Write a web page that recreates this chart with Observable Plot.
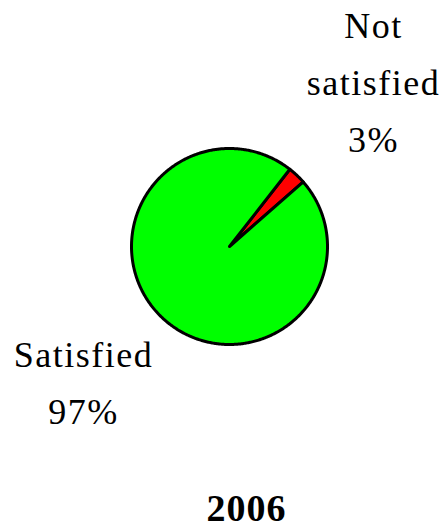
<!DOCTYPE html>
<html><head><meta charset="utf-8">
<script src="https://cdn.jsdelivr.net/npm/d3@7"></script>
<script src="https://cdn.jsdelivr.net/npm/@observablehq/plot@0.6"></script>
<style>body{margin:0;background:#fff;}</style>
</head><body><div id="chart"></div>
<script>
const categories = ["Not satisfied", "Satisfied"];
const values = [3, 97];
const colors = ["#ff0000", "#00ff00"];
const labelLines = [["Not", "satisfied", "3%"], ["Satisfied", "97%"]];
const title = "2006";

const W = 447, H = 527;
const cx = 229, cy = 246, R = 98;
const startDeg = 38;
const serif = "Liberation Serif";

const arcs = d3.pie().sort(null).value(d => d)
  .startAngle(startDeg * Math.PI / 180)
  .endAngle((startDeg + 360) * Math.PI / 180)(values);

const poly = [];
arcs.forEach((a, i) => {
  poly.push({cat: categories[i], x: cx, y: cy});
  const n = Math.max(2, Math.ceil((a.endAngle - a.startAngle) / 0.01));
  for (let k = 0; k <= n; k++) {
    const t = a.startAngle + (a.endAngle - a.startAngle) * k / n;
    poly.push({cat: categories[i], x: cx + R * Math.sin(t), y: cy - R * Math.cos(t)});
  }
});

const labelPos = [{x: 373, y: 37}, {x: 83, y: 366}];
const lineGap = 57;
const texts = [];
labelLines.forEach((lines, i) => lines.forEach((t, j) => texts.push({t, x: labelPos[i].x, y: labelPos[i].y + j * lineGap})));

const chart = Plot.plot({
  width: W, height: H, margin: 0,
  x: {domain: [0, W], range: [0, W], axis: null},
  y: {domain: [0, H], range: [0, H], axis: null},
  color: {domain: categories, range: colors},
  marks: [
    Plot.line(poly, {x: "x", y: "y", z: "cat", fill: "cat", stroke: "black", strokeWidth: 3, strokeLinejoin: "round", curve: "linear-closed"}),
    Plot.text(texts, {x: "x", y: "y", text: "t", fontSize: 36, fontFamily: serif, lineAnchor: "bottom", fill: "black", className: "lbl"}),
    Plot.text([title], {x: () => 246, y: () => 520, text: d => d, fontSize: 38, fontFamily: serif, fontWeight: "bold", lineAnchor: "bottom", fill: "black", className: "ttl"})
  ]
});
chart.querySelectorAll(".lbl text").forEach(t => t.style.letterSpacing = "1.5px");
chart.querySelectorAll(".ttl text").forEach(t => t.style.letterSpacing = "1px");
document.getElementById("chart").appendChild(chart);
</script></body></html>
